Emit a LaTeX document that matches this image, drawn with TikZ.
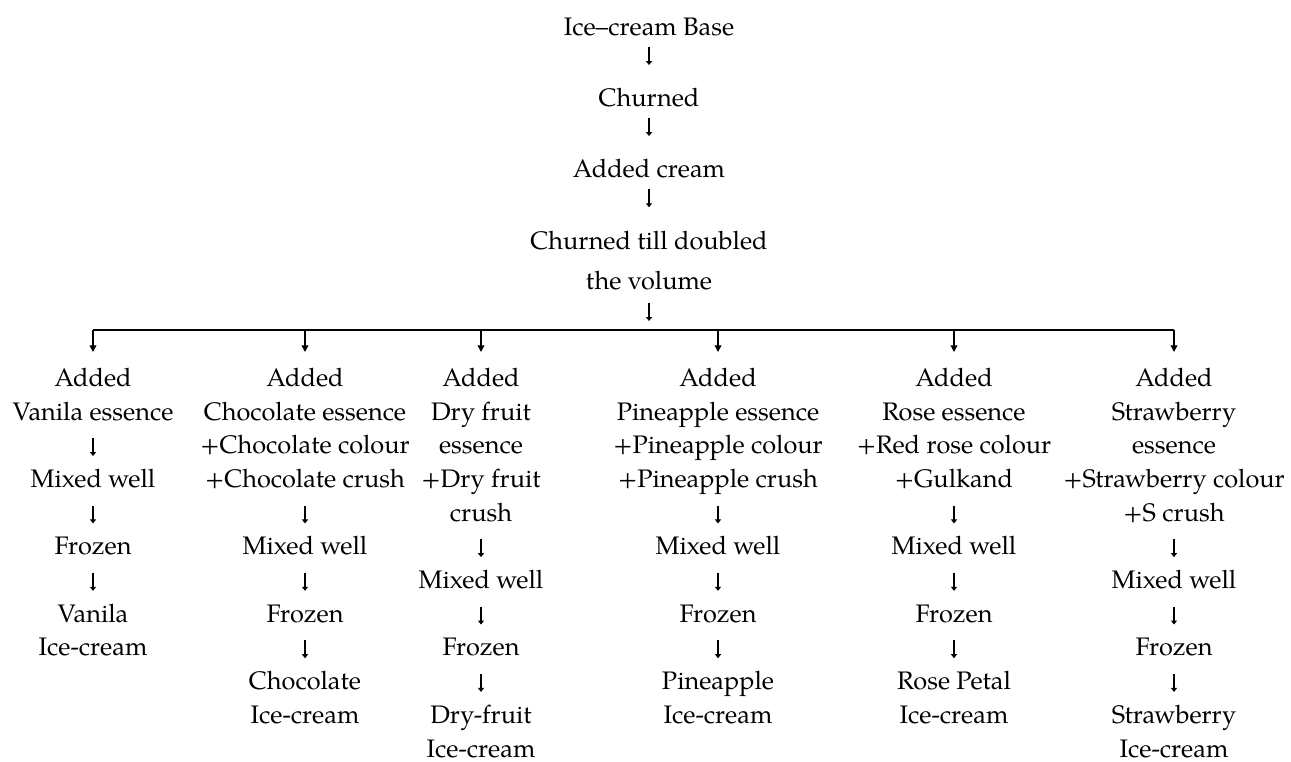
\documentclass[tikz,border=0pt]{standalone}
\usepackage{fontspec}
\setmainfont{TeX Gyre Pagella}
\usetikzlibrary{arrows.meta}
\tikzset{
  txt/.style={font=\fontsize{19}{25.3}\selectfont, align=center, inner sep=0pt, anchor=north},
  wide/.style={font=\fontsize{19}{30}\selectfont},
  glyph/.style={line width=0.9pt, -{Triangle[length=3pt,width=4.5pt]}},
  colarr/.style={glyph, shorten <=5.8pt, shorten >=5.6pt},
  toparr/.style={glyph, shorten <=0.7pt, shorten >=13pt},
  bararr/.style={line width=1pt, -{Triangle[length=5pt,width=5pt]}},
  barline/.style={line width=1pt}
}
\begin{document}
\begin{tikzpicture}[x=0.75pt, y=-0.75pt]
\useasboundingbox (0,0) rectangle (1291,761);
% top chain
\node[txt] (t0) at (649,11.4) {\strut Ice–cream Base\strut};
\node[txt] (t1) at (649,82.4) {\strut Churned\strut};
\node[txt] (t2) at (649,153.4) {\strut Added cream\strut};
\node[txt, wide] (t3) at (649,221) {\strut Churned till doubled\\the volume\strut};
\coordinate (bar) at (649,330);
\draw[toparr] (t0) -- (t1);
\draw[toparr] (t1) -- (t2);
\draw[toparr, shorten >=10.3pt] (t2) -- (t3);
\draw[glyph, shorten <=0.8pt, shorten >=6.75pt] (t3) -- (bar);
% column 1
\node[txt] (a1) at (93,362.4) {\strut Added\\Vanila essence\strut};
\node[txt] (a2) at (93,463.5) {\strut Mixed well\strut};
\node[txt] (a3) at (93,530.9) {\strut Frozen\strut};
\node[txt] (a4) at (93,598.3) {\strut Vanila\\Ice-cream\strut};
% column 2
\node[txt] (b1) at (305,362.4) {\strut Added\\Chocolate essence\\+Chocolate colour\\+Chocolate crush\strut};
\node[txt] (b2) at (305,530.9) {\strut Mixed well\strut};
\node[txt] (b3) at (305,598.3) {\strut Frozen\strut};
\node[txt] (b4) at (305,665.7) {\strut Chocolate\\Ice-cream\strut};
% column 3
\node[txt] (c1) at (481,362.4) {\strut Added\\Dry fruit\\essence\\+Dry fruit\\crush\strut};
\node[txt] (c2) at (481,564.6) {\strut Mixed well\strut};
\node[txt] (c3) at (481,632.0) {\strut Frozen\strut};
\node[txt] (c4) at (481,699.4) {\strut Dry-fruit\\Ice-cream\strut};
% column 4
\node[txt] (d1) at (718,362.4) {\strut Added\\Pineapple essence\\+Pineapple colour\\+Pineapple crush\strut};
\node[txt] (d2) at (718,530.9) {\strut Mixed well\strut};
\node[txt] (d3) at (718,598.3) {\strut Frozen\strut};
\node[txt] (d4) at (718,665.7) {\strut Pineapple\\Ice-cream\strut};
% column 5
\node[txt] (e1) at (954,362.4) {\strut Added\\Rose essence\\+Red rose colour\\+Gulkand\strut};
\node[txt] (e2) at (954,530.9) {\strut Mixed well\strut};
\node[txt] (e3) at (954,598.3) {\strut Frozen\strut};
\node[txt] (e4) at (954,665.7) {\strut Rose Petal\\Ice-cream\strut};
% column 6
\node[txt] (f1) at (1174,362.4) {\strut Added\\Strawberry\\essence\\+Strawberry colour\\+S crush\strut};
\node[txt] (f2) at (1174,564.6) {\strut Mixed well\strut};
\node[txt] (f3) at (1174,632.0) {\strut Frozen\strut};
\node[txt] (f4) at (1174,699.4) {\strut Strawberry\\Ice-cream\strut};
% branching bar
\draw[barline] (bar -| a1) -- (bar -| f1);
\foreach \n in {a1,b1,c1,d1,e1,f1}{
  \draw[bararr, shorten >=7.8pt] (bar -| \n) -- (\n.north);
}
% column arrows
\foreach \p/\q in {a1/a2,a2/a3,a3/a4,b1/b2,b2/b3,b3/b4,c1/c2,c2/c3,c3/c4,d1/d2,d2/d3,d3/d4,e1/e2,e2/e3,e3/e4,f1/f2,f2/f3,f3/f4}{
  \draw[colarr] (\p) -- (\q);
}
\end{tikzpicture}
\end{document}
